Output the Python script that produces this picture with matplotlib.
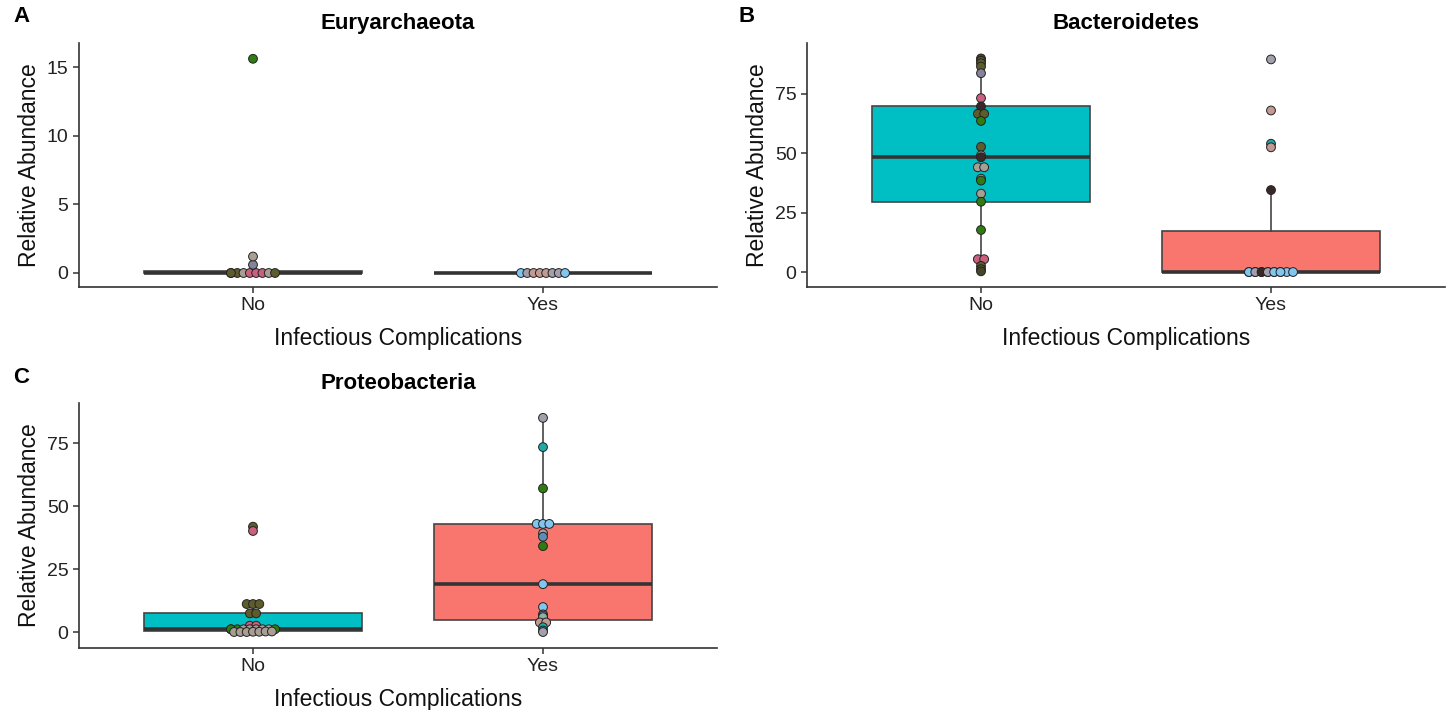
import numpy as np
import matplotlib.pyplot as plt

plt.rcParams['font.family'] = ['Liberation Sans', 'DejaVu Sans']

groups = ["No", "Yes"]
box_colors = ["#00BFC4", "#F8766D"]

# subject colours used for the dots
pal = {
    "olive": "#5e5c2c", "dkolive": "#45452a", "green": "#2f7d10", "pink": "#c9607f",
    "beige": "#a89e94", "purple": "#86829c", "blue": "#80c6f0", "teal": "#1fa9a9",
    "dark": "#3a2828", "rosy": "#c29a92", "grey": "#a3a0ab", "greyteal": "#8fb0a8",
    "steel": "#5b8db5",
}

# Euryarchaeota
eury_no = [0, 0, 0, 0, 0, 0, 0, 0, 0, 0.6, 1.2, 15.6]
eury_no_col = ["olive", "olive", "beige", "pink", "pink", "pink", "beige", "olive",
               "olive", "purple", "beige", "green"]
eury_yes = [0, 0, 0, 0, 0, 0, 0, 0]
eury_yes_col = ["blue", "grey", "rosy", "rosy", "rosy", "grey", "grey", "blue"]

# Bacteroidetes
bact_no = [89.9, 88.9, 87.9, 86.5, 83.7, 73.2, 69.7, 66.6, 66.6, 63.6, 52.7, 49.1, 48.3,
           44.1, 44.1, 39.3, 38.5, 33.0, 29.6, 17.7, 5.4, 5.4, 2.6, 1.2, 0.3]
bact_no_col = ["dkolive", "olive", "olive", "olive", "purple", "pink", "dark", "olive",
               "olive", "green", "olive", "beige", "dark", "beige", "beige", "beige",
               "green", "beige", "green", "green", "pink", "pink", "olive", "olive",
               "dkolive"]
bact_yes = [89.5, 68.0, 54.0, 52.5, 34.5] + [0] * 14
bact_yes_col = ["grey", "rosy", "teal", "rosy", "dark"] + \
    ["blue", "blue", "grey", "dark", "dark", "grey", "blue", "blue",
     "blue", "grey", "dark", "grey", "blue", "blue"]

# Proteobacteria
prot_no = [41.8, 40.1, 11.1, 11.1, 11.1, 7.4, 7.4, 2.5, 2.5] + [1.1] * 9 + \
    [0, 0, 0, 0.1, 0.1, 0.2, 0.2]
prot_no_col = ["olive", "pink", "olive", "olive", "olive", "olive", "olive", "pink",
               "pink", "green", "green", "beige", "beige", "beige", "beige", "beige",
               "green", "green", "beige", "beige", "beige", "beige", "beige", "beige",
               "beige"]
prot_yes = [85.0, 73.4, 57.0, 42.9, 42.9, 42.9, 39.2, 37.8, 34.1, 19.0, 9.9, 7.0, 6.5,
            5.9, 3.8, 3.8, 1.9, 0.6, 0.0]
prot_yes_col = ["grey", "teal", "green", "blue", "blue", "blue", "grey", "steel", "green",
                "blue", "blue", "grey", "greyteal", "greyteal", "rosy", "rosy", "teal",
                "teal", "grey"]


def dot_offsets(vals, tol, step, maxcols=8):
    # stack values that fall in the same bin side by side (like a centred dotplot)
    vals = np.asarray(vals, float)
    order = np.argsort(vals, kind="stable")
    off = np.zeros(len(vals))
    bins, cur, start = [], [], None
    for i in order:
        if cur and vals[i] - start > tol:
            bins.append(cur)
            cur = []
        if not cur:
            start = vals[i]
        cur.append(i)
    if cur:
        bins.append(cur)
    for b in bins:
        n = min(len(b), maxcols)
        for j, i in enumerate(b):
            off[i] = (j % n - (n - 1) / 2) * step
    return off


def panel(ax, title, no, no_col, yes, yes_col, tol, ylim, yticks):
    bp = ax.boxplot([no, yes], positions=[1, 2], widths=0.75, patch_artist=True,
                    showfliers=False, showcaps=False,
                    medianprops=dict(color="#333333", lw=2.6),
                    whiskerprops=dict(color="#444444", lw=1.2),
                    boxprops=dict(edgecolor="#444444", lw=1.2))
    for patch, c in zip(bp["boxes"], box_colors):
        patch.set_facecolor(c)

    step = 6.3 * 2.2 / 638
    for pos, vals, cols in [(1, no, no_col), (2, yes, yes_col)]:
        off = dot_offsets(vals, tol, step)
        ax.scatter(pos + off, vals, s=40, c=[pal[k] for k in cols],
                   edgecolors="#222222", linewidths=0.7, zorder=3)

    ax.set_xlim(0.4, 2.6)
    ax.set_ylim(*ylim)
    ax.set_xticks([1, 2])
    ax.set_xticklabels(groups)
    ax.set_yticks(yticks)
    ax.set_title(title, fontsize=16, fontweight="bold", pad=10)
    ax.set_xlabel("Infectious Complications", fontsize=16.5, color="#111111", labelpad=9)
    ax.set_ylabel("Relative Abundance", fontsize=16.5, color="#111111", labelpad=4)
    for s in ["top", "right"]:
        ax.spines[s].set_visible(False)
    for s in ["left", "bottom"]:
        ax.spines[s].set_color("#333333")
        ax.spines[s].set_linewidth(1.2)
    ax.tick_params(length=4, width=1.1, color="#333333", labelsize=14,
                   labelcolor="#222222")


fig = plt.figure(figsize=(14.5, 7.1), dpi=100)
W, H = 1450, 710
axA = fig.add_axes([79 / W, 1 - 287 / H, 638 / W, 244 / H])
axB = fig.add_axes([807 / W, 1 - 287 / H, 638 / W, 244 / H])
axC = fig.add_axes([79 / W, 1 - 648 / H, 638 / W, 245 / H])

panel(axA, "Euryarchaeota", eury_no, eury_no_col, eury_yes, eury_yes_col,
      0.1, (-1.02, 16.75), [0, 5, 10, 15])
panel(axB, "Bacteroidetes", bact_no, bact_no_col, bact_yes, bact_yes_col,
      0.5, (-6.3, 96.4), [0, 25, 50, 75])
panel(axC, "Proteobacteria", prot_no, prot_no_col, prot_yes, prot_yes_col,
      0.4, (-6.35, 90.9), [0, 25, 50, 75])

for letter, x, y in [("A", 21, 17), ("B", 747, 17), ("C", 21, 378)]:
    fig.text(x / W, 1 - y / H, letter, fontsize=16, fontweight="bold",
             ha="center", va="center")

fig.savefig("out.png", dpi=100)
